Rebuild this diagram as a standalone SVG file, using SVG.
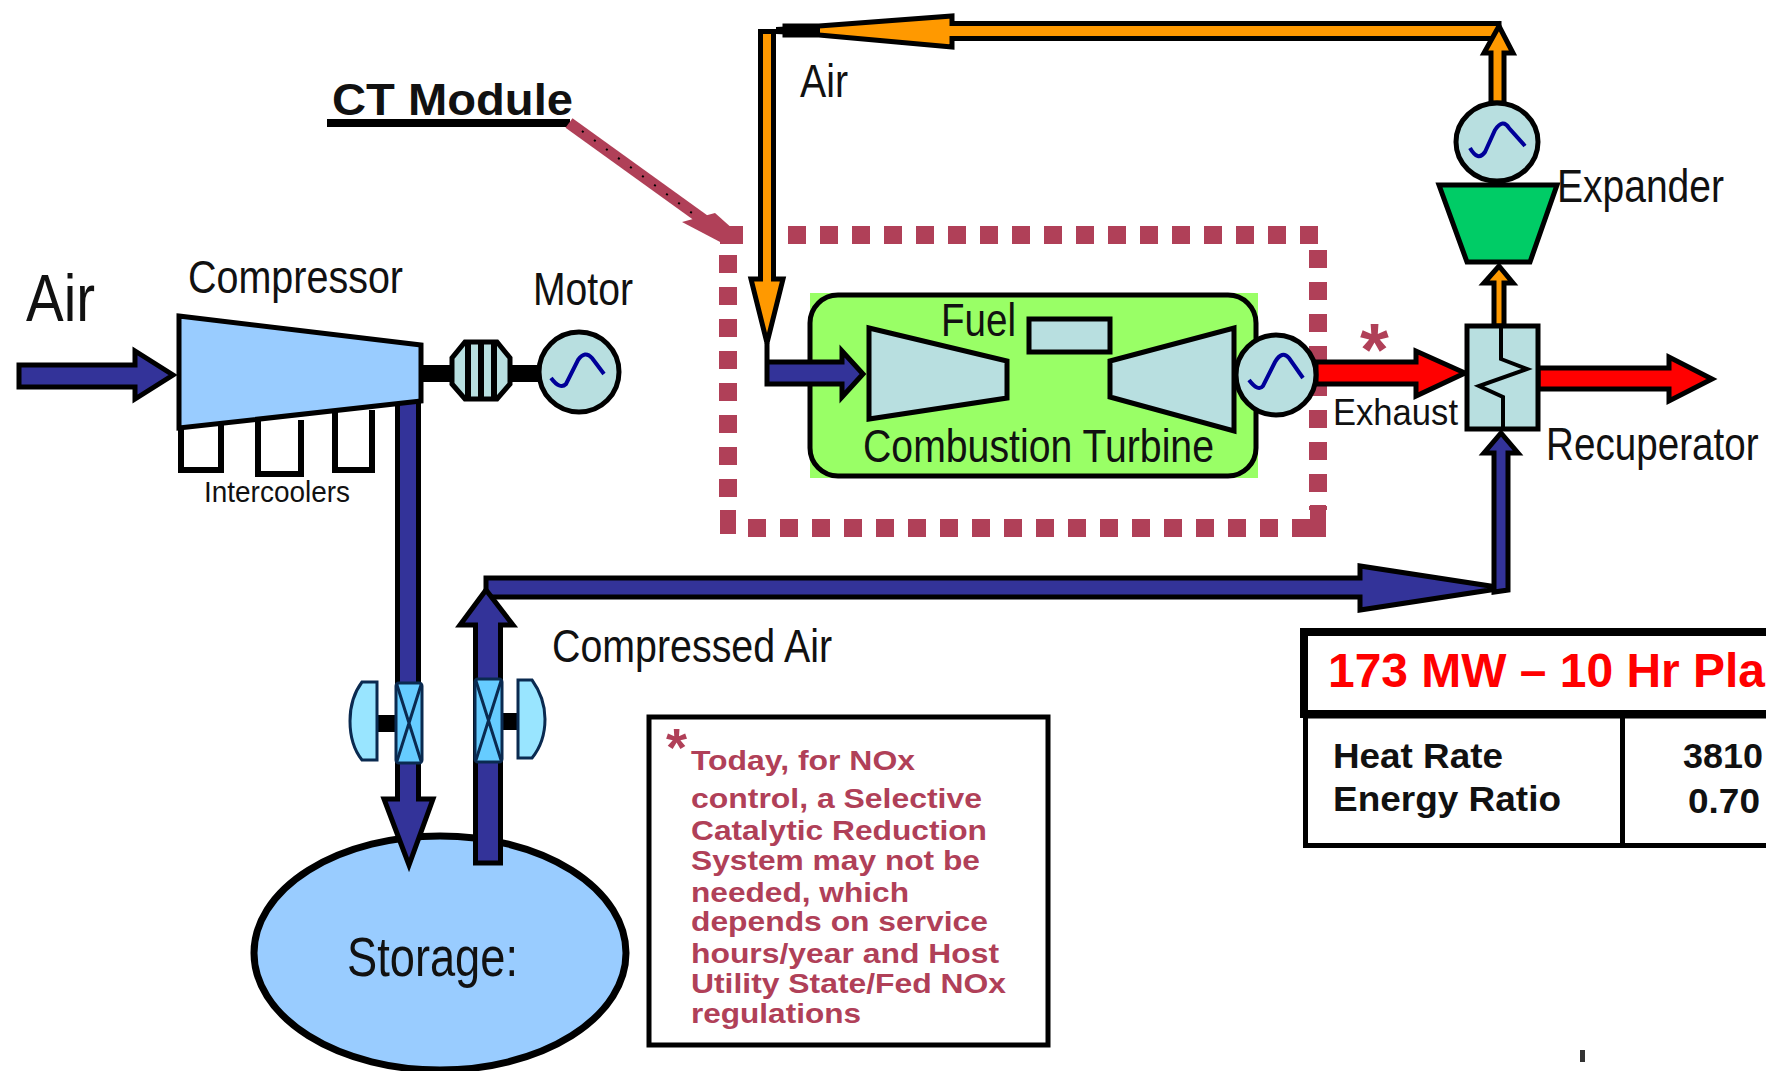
<svg xmlns="http://www.w3.org/2000/svg" width="1766" height="1071" viewBox="0 0 1766 1071">
<style>
text{font-family:"Liberation Sans",Arial,sans-serif;fill:#111}
.lbl{font-size:46px}
.note{font-size:28px;font-weight:bold;fill:#b04058}
.pipe{stroke:#000;stroke-width:5;stroke-linejoin:miter}
.blue{fill:#333399}.org{fill:#ff9900}.red{fill:#ff0000}
.tq{fill:#b8dfe0;stroke:#000;stroke-width:5}
.dash{fill:none;stroke:#b04058;stroke-width:18;stroke-dasharray:18 14}
.sine{fill:none;stroke:#000099;stroke-width:4}
.bold{font-weight:bold}
.ln{fill:none;stroke:#000}
.blade{fill:#99e5ff;stroke:#0a2a50;stroke-width:3}
.vbody{fill:#66ccff;stroke:#0a2a50;stroke-width:3}
.vx{stroke:#0a2a50;stroke-width:3}
</style>
<rect width="1766" height="1071" fill="#fff"/>
<g id="ct-module-frame">
<line class="dash" x1="788" y1="235" x2="1320" y2="235"/>
<line class="dash" x1="1318" y1="250" x2="1318" y2="510"/>
<line class="dash" x1="748" y1="528" x2="1310" y2="528"/>
<line class="dash" x1="728" y1="255" x2="728" y2="510"/>
<rect x="720" y="226" width="23" height="18" fill="#b04058"/>
<rect x="720" y="510" width="16" height="24" fill="#b04058"/>
<rect x="1310" y="505" width="16" height="32" fill="#b04058"/>
</g>
<g id="ct-module">
<text x="332" y="115" font-size="45" class="bold" textLength="241" lengthAdjust="spacingAndGlyphs">CT Module</text>
<rect x="327" y="119" width="243" height="8" fill="#000"/>
<line x1="569" y1="123" x2="712" y2="226" stroke="#b04058" stroke-width="12"/>
<path d="M682 222L715 213L743 238V243H722Z" fill="#b04058"/>
<line x1="582" y1="131" x2="692" y2="213" stroke="#000" stroke-width="2" stroke-dasharray="2 13"/>
</g>
<g id="combustion-turbine">
<rect x="810" y="293" width="448" height="185" fill="#99ff66"/>
<rect x="810" y="295" width="446" height="181" rx="28" ry="28" fill="#99ff66" stroke="#000" stroke-width="5"/>
<polygon class="tq" points="869,328 1007,361 1007,398 869,419"/>
<polygon class="tq" points="1110,361 1234,328 1234,431 1110,397"/>
<rect class="tq" x="1029" y="319" width="81" height="33"/>
<text class="lbl" x="941" y="336" textLength="75" lengthAdjust="spacingAndGlyphs">Fuel</text>
<text class="lbl" x="863" y="462" textLength="351" lengthAdjust="spacingAndGlyphs">Combustion Turbine</text>
</g>
<g id="storage">
<ellipse cx="440" cy="953" rx="186" ry="117" fill="#99ccff" stroke="#000" stroke-width="7"/>
<text x="347" y="976" font-size="56" textLength="171" lengthAdjust="spacingAndGlyphs">Storage:</text>
</g>
<g id="connectors">
<path class="pipe blue" d="M19 365H135V351L173 375L135 399V387H19Z"/>
<path class="pipe blue" d="M397.500 401H418.500V799H433L409 865L384 799H397.500Z"/>
<path class="pipe blue" d="M486 578H1360V566L1490 586V590L1360 610V597H486Z"/>
<path class="pipe blue" d="M1494 592V453H1484L1501 433L1518 453H1508V590Z"/>
<path class="pipe blue" d="M475.500 863V625H460L486 590L513 625H500.500V863Z"/>
<path class="pipe org" d="M1499 23.500H952V16L819 26H785V35H819L952 47V38.500H1499Z"/>
<path d="M776 27L820 25V36L776 34Z" fill="#000"/>
<path class="pipe org" d="M760.500 31.500H773.500V279H783L767 343L751 279H760.500Z"/>
<path class="pipe org" d="M1491 103V53H1484L1499 26L1513 53H1504V103Z"/>
<path class="pipe org" d="M1494 326V283H1484L1499 266L1513 283H1504V326Z"/>
<path class="pipe blue" d="M767 343V362H842V351L863 374L842 397V384H767Z"/>
<path class="pipe red" d="M1316 362H1416V351L1465 373L1416 396V384H1316Z"/>
<path class="pipe red" d="M1538 368H1669V357L1712 379L1669 401V389H1538Z"/>
<rect x="421" y="365" width="31" height="17" fill="#000"/>
<rect x="511" y="365" width="29" height="17" fill="#000"/>
<rect x="377" y="715" width="19" height="17" fill="#000"/>
<rect x="502" y="713" width="17" height="17" fill="#000"/>
</g>
<g id="air-in"><text x="26" y="321" font-size="66" textLength="69" lengthAdjust="spacingAndGlyphs">Air</text></g>
<g id="intercoolers">
<path class="ln" stroke-width="6" d="M181 425V470H221V425"/>
<path class="ln" stroke-width="6" d="M258 420V474H301V420"/>
<path class="ln" stroke-width="6" d="M335 410V470H372V410"/>
<text x="204" y="502" font-size="30" textLength="146" lengthAdjust="spacingAndGlyphs">Intercoolers</text>
</g>
<g id="compressor">
<polygon points="179,316 421,345 421,401 179,428" fill="#99ccff" stroke="#000" stroke-width="5"/>
<text class="lbl" x="188" y="293" textLength="215" lengthAdjust="spacingAndGlyphs">Compressor</text>
</g>
<g id="coupling">
<polygon class="tq" points="465,342 497,342 510,358 510,384 497,399 465,399 452,384 452,358"/>
<path class="ln" stroke-width="6" d="M468 342V399M481 342V399M494 342V399"/>
</g>
<g id="motor">
<circle class="tq" cx="579" cy="372" r="40"/>
<path class="sine" d="M551 378Q560 390 566 384L578 360Q585 350 592 358L604 374"/>
<text class="lbl" x="533" y="305" textLength="100" lengthAdjust="spacingAndGlyphs">Motor</text>
</g>
<g id="valve-left">
<rect class="vbody" x="396" y="683" width="26" height="80" rx="3"/>
<path class="vx" d="M397 685L421 761M421 685L397 761"/>
<path class="blade" d="M377 682H362Q350 698 350 721Q350 745 362 760H377Z"/>
</g>
<g id="valve-right">
<rect class="vbody" x="475" y="679" width="27" height="83" rx="3"/>
<path class="vx" d="M476 681L501 760M501 681L476 760"/>
<path class="blade" d="M518 680H532Q545 698 545 719Q545 742 532 758H518Z"/>
</g>
<g id="generator"><circle class="tq" cx="1276" cy="375" r="40"/><path class="sine" d="M1249 380Q1258 392 1263 386L1275 362Q1282 350 1289 358L1303 378"/></g>
<g id="exhaust">
<text x="1360" y="375" font-size="74" class="bold" style="fill:#b04058">*</text>
<text x="1333" y="425" font-size="37" textLength="125" lengthAdjust="spacingAndGlyphs">Exhaust</text>
</g>
<g id="recuperator">
<rect class="tq" x="1467" y="326" width="71" height="103"/>
<path class="ln" stroke-width="4" d="M1501 326V359L1527 369L1479 386L1503 397V429"/>
<text class="lbl" transform="translate(1546 460) scale(.84 1)" x="0" y="0">Recuperator</text>
</g>
<g id="expander">
<polygon points="1439,185 1557,185 1530,262 1467,262" fill="#00cc66" stroke="#000" stroke-width="5"/>
<ellipse class="tq" cx="1497" cy="142" rx="41" ry="39"/>
<path class="sine" d="M1470 148Q1478 162 1485 152L1495 130Q1503 118 1509 128L1525 146"/>
<text class="lbl" x="1557" y="202" textLength="167" lengthAdjust="spacingAndGlyphs">Expander</text>
</g>
<g id="labels">
<text class="lbl" x="800" y="97" textLength="48" lengthAdjust="spacingAndGlyphs">Air</text>
<text class="lbl" x="552" y="662" textLength="280" lengthAdjust="spacingAndGlyphs">Compressed Air</text>
</g>
<g id="note">
<rect x="649" y="717" width="399" height="328" fill="#fff" stroke="#000" stroke-width="5"/>
<text x="666" y="766" font-size="54" class="bold" style="fill:#b04058">*</text>
<text class="note" x="691" y="770" textLength="224" lengthAdjust="spacingAndGlyphs">Today, for NOx</text>
<text class="note" x="691" y="808" textLength="291" lengthAdjust="spacingAndGlyphs">control, a Selective</text>
<text class="note" x="691" y="840" textLength="296" lengthAdjust="spacingAndGlyphs">Catalytic Reduction</text>
<text class="note" x="691" y="870" textLength="289" lengthAdjust="spacingAndGlyphs">System may not be</text>
<text class="note" x="691" y="902" textLength="218" lengthAdjust="spacingAndGlyphs">needed, which</text>
<text class="note" x="691" y="931" textLength="297" lengthAdjust="spacingAndGlyphs">depends on service</text>
<text class="note" x="691" y="963" textLength="308" lengthAdjust="spacingAndGlyphs">hours/year and Host</text>
<text class="note" x="691" y="993" textLength="315" lengthAdjust="spacingAndGlyphs">Utility State/Fed NOx</text>
<text class="note" x="691" y="1023" textLength="170" lengthAdjust="spacingAndGlyphs">regulations</text>
</g>
<g id="plant-table">
<rect x="1304" y="632" width="480" height="82" fill="#fff" stroke="#000" stroke-width="8"/>
<rect x="1305.500" y="716" width="480" height="129.500" fill="#fff" stroke="#000" stroke-width="5"/>
<line x1="1622.500" y1="716" x2="1622.500" y2="846" stroke="#000" stroke-width="5"/>
<text x="1328" y="687" font-size="48" class="bold" style="fill:#ff0000" textLength="437" lengthAdjust="spacingAndGlyphs">173 MW – 10 Hr Pla</text>
<text x="1333" y="768" font-size="35" class="bold" textLength="170" lengthAdjust="spacingAndGlyphs">Heat Rate</text>
<text x="1333" y="811" font-size="35" class="bold" textLength="228" lengthAdjust="spacingAndGlyphs">Energy Ratio</text>
<text x="1683" y="768" font-size="35" class="bold" textLength="80" lengthAdjust="spacingAndGlyphs">3810</text>
<text x="1688" y="813" font-size="35" class="bold" textLength="72" lengthAdjust="spacingAndGlyphs">0.70</text>
</g>
<rect id="speck" x="1580" y="1050" width="5" height="12" fill="#333"/>
</svg>
